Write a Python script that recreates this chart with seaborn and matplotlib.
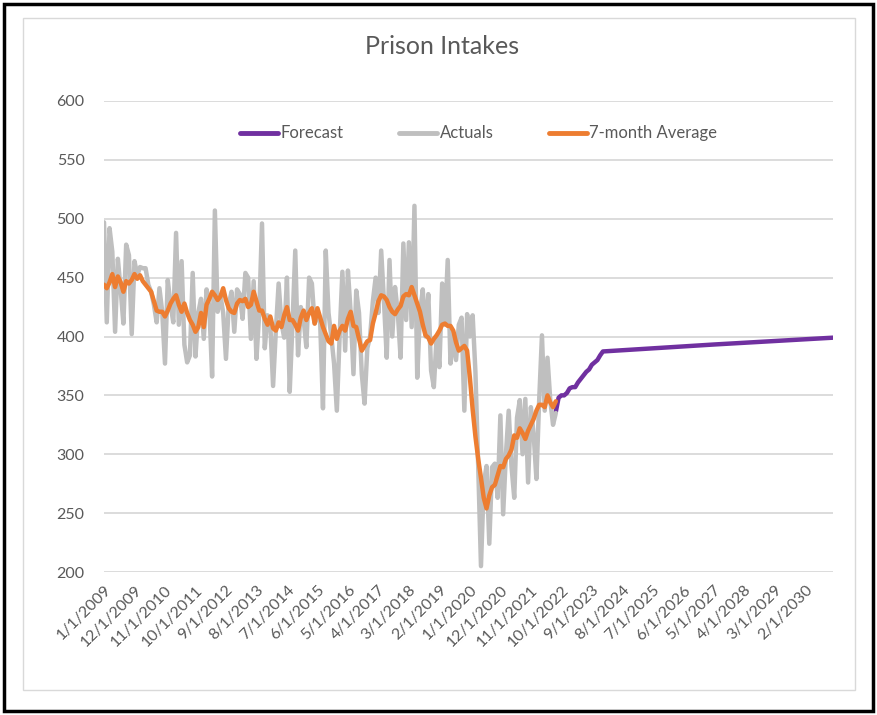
import numpy as np
import pandas as pd
import matplotlib
matplotlib.use("Agg")
import matplotlib.pyplot as plt
import seaborn as sns
from matplotlib.patches import Rectangle

# monthly axis, 1/1/2009 .. 12/1/2030
months = pd.date_range("2009-01-01", periods=264, freq="MS")
month_labels = [f"{d.month}/{d.day}/{d.year}" for d in months]

actuals = [
    497, 412, 492, 472, 404, 466, 440, 411, 478, 469, 402, 464, 452, 459, 458, 458,
    444, 438, 427, 412, 441, 421, 377, 448, 427, 412, 488, 410, 464, 393, 378, 384,
    454, 383, 420, 432, 398, 440, 425, 366, 507, 421, 435, 420, 381, 427, 438, 404,
    440, 436, 415, 454, 450, 398, 447, 381, 420, 496, 390, 418, 410, 358, 405, 445,
    412, 399, 450, 353, 411, 473, 384, 425, 415, 391, 450, 445, 411, 420, 411, 339,
    473, 420, 400, 377, 337, 400, 455, 388, 456, 420, 368, 439, 420, 368, 343, 390,
    400, 430, 450, 420, 473, 430, 382, 465, 400, 442, 420, 382, 479, 414, 480, 408,
    511, 365, 420, 440, 400, 436, 371, 357, 400, 374, 445, 410, 465, 377, 400, 380,
    410, 416, 337, 419, 400, 418, 370, 290, 205, 275, 290, 224, 289, 292, 263, 333,
    249, 300, 337, 290, 263, 331, 346, 300, 347, 276, 340, 317, 279, 346, 401, 337,
    382, 346, 325, 335,
]

# 7-month average as drawn on the chart
avg7 = [
    444, 441, 446, 453, 442, 451, 446, 438, 447, 445, 448, 453, 449, 452, 447, 444,
    441, 438, 430, 422, 421, 421, 417, 422, 428, 432, 435, 427, 421, 428, 420, 414,
    410, 404, 408, 420, 408, 427, 432, 438, 435, 431, 434, 441, 431, 424, 421, 420,
    428, 431, 430, 432, 425, 427, 438, 430, 422, 422, 415, 410, 417, 407, 405, 412,
    408, 418, 425, 414, 414, 410, 405, 416, 422, 414, 420, 424, 411, 424, 416, 408,
    402, 396, 394, 409, 398, 405, 409, 405, 415, 421, 409, 408, 398, 388, 392, 396,
    397, 411, 420, 430, 435, 434, 431, 425, 421, 419, 423, 426, 434, 436, 435, 442,
    435, 428, 421, 410, 401, 399, 394, 398, 401, 405, 410, 411, 409, 409, 405, 395,
    388, 390, 392, 388, 365, 338, 315, 296, 280, 263, 254, 265, 272, 274, 282, 290,
    289, 296, 299, 304, 316, 314, 322, 318, 313, 320, 325, 330, 337, 342, 342, 340,
    350, 344, 340, 345,
]

# forecast points (month index, value)
forecast_idx = [163, 164, 165, 166, 167, 168, 169, 170, 171, 172, 173, 174, 175, 176,
                177, 178, 179, 180, 220, 263]
forecast_val = [336, 348, 350, 350, 352, 356, 357, 357, 361, 364, 367, 370, 372, 376,
                378, 380, 384, 387.3, 393.2, 399.0]

df = pd.concat([
    pd.DataFrame({"month": forecast_idx, "value": forecast_val, "series": "Forecast"}),
    pd.DataFrame({"month": range(len(actuals)), "value": actuals, "series": "Actuals"}),
    pd.DataFrame({"month": range(len(avg7)), "value": avg7, "series": "7-month Average"}),
])

sns.set_style("white")
plt.rcParams["font.family"] = ["Lato", "DejaVu Sans"]

fig = plt.figure(figsize=(8.77, 7.15), dpi=100)
ax = fig.add_axes([104 / 877, 1 - 572 / 715, 729 / 877, 471 / 715])

palette = {"Forecast": "#7030A0", "Actuals": "#BFBFBF", "7-month Average": "#ED7D31"}
sns.lineplot(data=df, x="month", y="value", hue="series",
             hue_order=["Forecast", "Actuals", "7-month Average"],
             palette=palette, linewidth=3.2, ax=ax,
             solid_capstyle="round", solid_joinstyle="round")

ax.set_xlim(0, 263)
ax.set_ylim(200, 600)
ax.set_yticks(range(200, 601, 50))
ax.yaxis.grid(True, color="#D9D9D9", linewidth=1.3)
ax.set_axisbelow(True)
for s in ax.spines.values():
    s.set_visible(False)

tick_pos = list(range(0, 254, 11))
ax.set_xticks(tick_pos)
ax.set_xticklabels([month_labels[i] for i in tick_pos], rotation=45, ha="right",
                   rotation_mode="anchor")
ax.tick_params(axis="x", length=0, pad=8, labelsize=11.5, labelcolor="#595959")
ax.tick_params(axis="y", length=0, pad=14, labelsize=11.5, labelcolor="#595959")
ax.set_xlabel("")
ax.set_ylabel("")

leg = ax.legend(loc="upper center", bbox_to_anchor=(0.514, 0.98), ncol=3,
                frameon=False, fontsize=12, handlelength=2.3, handletextpad=0.15,
                columnspacing=3.3)
for t in leg.get_texts():
    t.set_color("#595959")
for h in leg.legend_handles:
    h.set_linewidth(3.5)

fig.text(442 / 877, 1 - 47 / 715, "Prison Intakes", ha="center", va="center",
         fontsize=18, color="#595959")

# chart frame and outer border
fig.patches.append(Rectangle((23 / 877, 1 - 690 / 715), 832 / 877, 672 / 715,
                             transform=fig.transFigure, fill=False,
                             edgecolor="#D9D9D9", linewidth=1))
fig.patches.append(Rectangle((4 / 877, 4 / 715), 869 / 877, 707 / 715,
                             transform=fig.transFigure, fill=False,
                             edgecolor="black", linewidth=2.5))

fig.savefig("out.png", dpi=100)
